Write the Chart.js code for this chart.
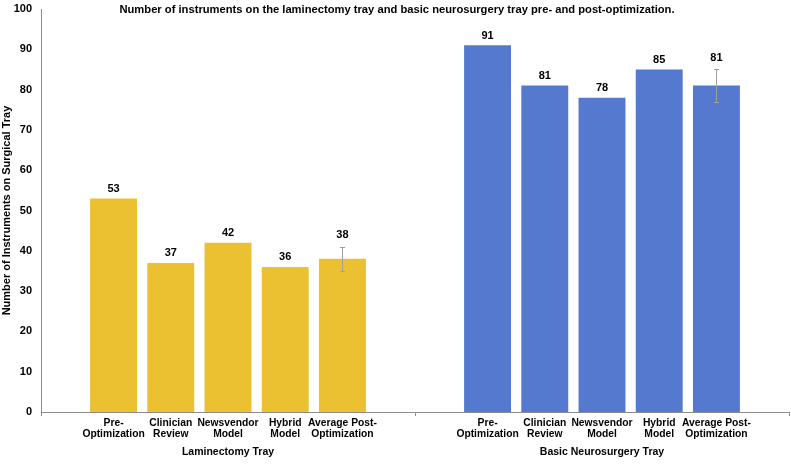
<!DOCTYPE html>
<html>
<head>
<meta charset="utf-8">
<script src="https://cdn.jsdelivr.net/npm/chart.js@4.4.1/dist/chart.umd.min.js"></script>
<style>
  html, body { margin: 0; padding: 0; background: #fff; }
  #wrap { width: 791px; height: 464px; }
</style>
</head>
<body>
<div id="wrap"><canvas id="trayChart"></canvas></div>
<script>
// Chart data
const trays = ['Laminectomy Tray', 'Basic Neurosurgery Tray'];
const stages = [
    ['Pre-', 'Optimization'],
    ['Clinician', 'Review'],
    ['Newsvendor', 'Model'],
    ['Hybrid', 'Model'],
    ['Average Post-', 'Optimization']
];
const laminectomyCounts = [53, 37, 42, 36, 38];
const neurosurgeryCounts = [91, 81, 78, 85, 81];
// +/- spread on the "Average Post-Optimization" bars (laminectomy, neurosurgery)
const averageSpread = [3, 4];
const yTicks = [0, 10, 20, 30, 40, 50, 60, 70, 80, 90, 100];

const titleText = 'Number of instruments on the laminectomy tray and basic neurosurgery tray pre- and post-optimization.';
const trayColors = ['#EBC131', '#5479CE'];
const FONT = "'Liberation Sans', Arial, sans-serif";

const datasets = stages.map((stage, i) => ({
    label: stage.join(' '),
    data: [laminectomyCounts[i], neurosurgeryCounts[i]],
    backgroundColor: trayColors,
    borderWidth: 0,
    barPercentage: 0.82,
    categoryPercentage: 0.765
}));

// Draws value labels, error bars, per-bar stage labels and the title
const annotatePlugin = {
    id: 'annotate',
    afterDatasetsDraw(chart) {
        const ctx = chart.ctx;
        const yScale = chart.scales.y;
        const area = chart.chartArea;
        const last = stages.length - 1;

        ctx.save();
        ctx.fillStyle = '#000';
        ctx.textAlign = 'center';

        chart.data.datasets.forEach((ds, i) => {
            const meta = chart.getDatasetMeta(i);
            meta.data.forEach((bar, j) => {
                let top = bar.y;
                if (i === last) {
                    const hi = yScale.getPixelForValue(ds.data[j] + averageSpread[j]);
                    const lo = yScale.getPixelForValue(ds.data[j] - averageSpread[j]);
                    const x = Math.round(bar.x);
                    ctx.strokeStyle = '#A0A0A0';
                    ctx.lineWidth = 1;
                    ctx.beginPath();
                    ctx.moveTo(x + 0.5, hi);
                    ctx.lineTo(x + 0.5, lo);
                    ctx.moveTo(x - 2, Math.round(hi) + 0.5);
                    ctx.lineTo(x + 3, Math.round(hi) + 0.5);
                    ctx.moveTo(x - 2, Math.round(lo) + 0.5);
                    ctx.lineTo(x + 3, Math.round(lo) + 0.5);
                    ctx.stroke();
                    top = hi - 2;
                }
                ctx.font = 'bold 11px ' + FONT;
                ctx.textBaseline = 'bottom';
                ctx.fillText(ds.data[j], bar.x, top - 4);

                ctx.font = 'bold 10.3px ' + FONT;
                ctx.textBaseline = 'middle';
                stages[i].forEach((line, k) => {
                    ctx.fillText(line, bar.x, area.bottom + 11 + k * 11);
                });
            });
        });

        ctx.font = 'bold 11.2px ' + FONT;
        ctx.textBaseline = 'middle';
        ctx.fillText(titleText, 397, 10);
        ctx.restore();
    }
};

document.addEventListener('DOMContentLoaded', function() {
    const ctx = document.getElementById('trayChart').getContext('2d');
    new Chart(ctx, {
        type: 'bar',
        data: {
            labels: trays,
            datasets: datasets
        },
        options: {
            responsive: true,
            maintainAspectRatio: false,
            animation: false,
            layout: {
                padding: { top: 9, right: 2, bottom: 0, left: 0 }
            },
            plugins: {
                legend: { display: false },
                tooltip: { enabled: false }
            },
            scales: {
                x: {
                    afterFit: function(scale) { scale.height = 52; },
                    grid: {
                        display: true,
                        drawOnChartArea: false,
                        drawTicks: true,
                        tickLength: 4,
                        color: '#8C8C8C'
                    },
                    border: { display: true, color: '#8C8C8C', width: 1 },
                    ticks: {
                        color: '#000',
                        padding: 30,
                        maxRotation: 0,
                        font: { family: FONT, size: 10.5, weight: 'bold' }
                    }
                },
                y: {
                    min: 0,
                    max: 100,
                    afterFit: function(scale) {
                        scale.width = 41;
                        scale.paddingTop = 0;
                        scale.paddingBottom = 0;
                    },
                    afterBuildTicks: function(scale) {
                        scale.ticks = yTicks.map(v => ({ value: v }));
                    },
                    grid: { display: false, drawTicks: false },
                    border: { display: true, color: '#8C8C8C', width: 1 },
                    ticks: {
                        color: '#000',
                        padding: 9,
                        font: { family: FONT, size: 11, weight: 'bold' }
                    },
                    title: {
                        display: true,
                        text: 'Number of Instruments on Surgical Tray',
                        color: '#000',
                        padding: 0,
                        font: { family: FONT, size: 11, weight: 'bold' }
                    }
                }
            }
        },
        plugins: [annotatePlugin]
    });
});
</script>
</body>
</html>
